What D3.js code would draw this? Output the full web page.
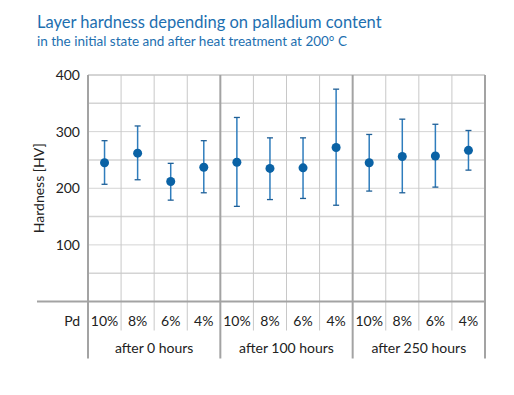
<!DOCTYPE html>
<html>
<head>
<meta charset="utf-8">
<script src="https://cdn.jsdelivr.net/npm/d3@7"></script>
<style>
  body { margin: 0; background: #fff; }
  text { font-family: Lato, "Open Sans", sans-serif; }
</style>
</head>
<body>
<script>
// data
const groups = ["after 0 hours", "after 100 hours", "after 250 hours"];
const pdLabels = ["10%", "8%", "6%", "4%"];
const means = [245, 262, 212, 237, 246, 235, 236, 272, 245, 256, 257, 267];
const upper = [284, 310, 244, 284, 325, 289, 289, 375, 295, 322, 313, 302];
const lower = [207, 215, 179, 192, 168, 180, 182, 170, 195, 192, 202, 232];
const yTicks = [100, 200, 300, 400];

const width = 514, height = 395;
const plotL = 88, plotR = 485, plotT = 75, plotB = 301.5;

const svg = d3.select("body").append("svg")
  .attr("width", width)
  .attr("height", height);

// title
svg.append("text")
  .attr("x", 37).attr("y", 28)
  .style("font-size", "16.5px")
  .style("fill", "#1d6fb0")
  .text("Layer hardness depending on palladium content");
svg.append("text")
  .attr("x", 37).attr("y", 46)
  .style("font-size", "13.5px")
  .style("fill", "#1d6fb0")
  .text("in the initial state and after heat treatment at 200° C");

const cols = d3.range(means.length);
const x = d3.scaleBand().domain(cols).range([plotL, plotR]);
const y = d3.scaleLinear().domain([0, 400]).range([plotB, plotT]);

// horizontal grid every 50
svg.append("g").selectAll("line")
  .data(d3.range(50, 401, 50))
  .enter().append("line")
  .attr("x1", plotL).attr("x2", plotR)
  .attr("y1", d => y(d)).attr("y2", d => y(d))
  .style("stroke", d => d === 400 ? "#aaa" : "#d4d4d4")
  .style("stroke-width", d => d % 100 === 0 ? 1 : 1.5);

// thin column lines (plot + under the axis to the pd row)
svg.append("g").selectAll("line")
  .data(cols.filter(i => i % 4 !== 0))
  .enter().append("line")
  .attr("x1", i => x(i)).attr("x2", i => x(i))
  .attr("y1", plotT).attr("y2", plotB + 29)
  .style("stroke", "#c8c8c8")
  .style("stroke-width", 1);

// group separators
const seps = [0, 4, 8, 12];
svg.append("g").selectAll("line")
  .data(seps)
  .enter().append("line")
  .attr("x1", i => i === 12 ? plotR : x(i))
  .attr("x2", i => i === 12 ? plotR : x(i))
  .attr("y1", plotT).attr("y2", plotB + 57)
  .style("stroke", "#a3a3a3")
  .style("stroke-width", 2);

// base line
svg.append("line")
  .attr("x1", 37).attr("x2", plotR + 1)
  .attr("y1", plotB).attr("y2", plotB)
  .style("stroke", "#a3a3a3")
  .style("stroke-width", 2);

// y tick labels
svg.append("g").selectAll("text")
  .data(yTicks)
  .enter().append("text")
  .attr("x", 80)
  .attr("y", d => y(d) + 5)
  .attr("text-anchor", "end")
  .style("font-size", "14px")
  .style("fill", "#222")
  .text(d => d);

svg.append("text")
  .attr("transform", "translate(44," + y(200) + ") rotate(-90)")
  .attr("text-anchor", "middle")
  .style("font-size", "14px")
  .style("fill", "#222")
  .text("Hardness [HV]");

// pd row
svg.append("text")
  .attr("x", 80).attr("y", plotB + 24)
  .attr("text-anchor", "end")
  .style("font-size", "14px")
  .style("fill", "#222")
  .text("Pd");

svg.append("g").selectAll("text")
  .data(cols)
  .enter().append("text")
  .attr("x", i => x(i) + x.bandwidth() / 2)
  .attr("y", plotB + 24)
  .attr("text-anchor", "middle")
  .style("font-size", "14px")
  .style("fill", "#222")
  .text(i => pdLabels[i % 4]);

svg.append("g").selectAll("text")
  .data(groups)
  .enter().append("text")
  .attr("x", (d, g) => x(g * 4) + x.bandwidth() * 2)
  .attr("y", plotB + 51)
  .attr("text-anchor", "middle")
  .style("font-size", "14px")
  .style("fill", "#222")
  .text(d => d);

// error bars
const eb = svg.append("g").selectAll("g")
  .data(cols)
  .enter().append("g")
  .attr("transform", i => "translate(" + (x(i) + x.bandwidth() / 2) + ",0)");

eb.append("line")
  .attr("y1", i => y(upper[i])).attr("y2", i => y(lower[i]))
  .style("stroke", "#2f7dbd")
  .style("stroke-width", 1.5);
eb.append("line")
  .attr("x1", -3).attr("x2", 3)
  .attr("y1", i => y(upper[i])).attr("y2", i => y(upper[i]))
  .style("stroke", "#1f5f96")
  .style("stroke-width", 1.3);
eb.append("line")
  .attr("x1", -3).attr("x2", 3)
  .attr("y1", i => y(lower[i])).attr("y2", i => y(lower[i]))
  .style("stroke", "#1f5f96")
  .style("stroke-width", 1.3);
eb.append("circle")
  .attr("cy", i => y(means[i]))
  .attr("r", 4.5)
  .style("fill", "#0a62a5");
</script>
</body>
</html>
